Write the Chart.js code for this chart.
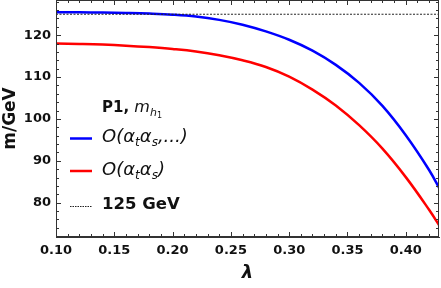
<!DOCTYPE html>
<html>
<head>
<meta charset="utf-8">
<script src="https://cdn.jsdelivr.net/npm/chart.js@4.4.1/dist/chart.umd.min.js"></script>
<style>
  html, body { margin: 0; padding: 0; background: #fff; }
  canvas { display: block; }
</style>
</head>
<body>
<canvas id="massChart" width="441" height="288"></canvas>
<script>
// lambda values and the two m_h1 curves (GeV)
const lambda = [0.10, 0.12, 0.14, 0.16, 0.18, 0.20, 0.22, 0.24, 0.26, 0.28, 0.30, 0.32, 0.34, 0.36, 0.38, 0.40, 0.42, 0.43];
const mFull  = [125.5, 125.47, 125.4, 125.3, 125.15, 124.9, 124.45, 123.65, 122.5, 120.9, 118.9, 116.3, 112.9, 108.6, 103.1, 96.1, 87.8, 82.8];
const mAtAs  = [118.0, 117.9, 117.75, 117.5, 117.15, 116.7, 116.1, 115.2, 114.0, 112.4, 110.1, 107.0, 103.2, 98.5, 92.9, 86.1, 78.3, 74.0];
const refMass = 125;

const xTickValues = [0.10, 0.15, 0.20, 0.25, 0.30, 0.35, 0.40];
const yTickValues = [80, 90, 100, 110, 120];
const xMin = 0.1, xMax = 0.4285;
const yMin = 71.8, yMax = 128.4;

const FONT = 'DejaVu Sans';

var toPoints = function(ys) {
    return lambda.map(function(x, i) { return {x: x, y: ys[i]}; });
};

// frame with inward ticks on all four sides, like the original
const framePlugin = {
    id: 'frame',
    afterDatasetsDraw(chart) {
        const ctx = chart.ctx;
        const a = chart.chartArea;
        const sx = chart.scales.x, sy = chart.scales.y;
        ctx.save();
        ctx.strokeStyle = '#333';
        ctx.lineWidth = 1;
        ctx.strokeRect(a.left + 0.5, a.top + 0.5, a.right - a.left - 1, a.bottom - a.top - 1);
        ctx.beginPath();
        for (var i = 10; i <= 42; i++) {
            var px = Math.round(sx.getPixelForValue(i / 100)) + 0.5;
            var len = (i % 5 === 0) ? 5 : 3;
            ctx.moveTo(px, a.bottom); ctx.lineTo(px, a.bottom - len);
            ctx.moveTo(px, a.top); ctx.lineTo(px, a.top + len);
        }
        for (var v = 72; v <= 128; v += 2) {
            var py = Math.round(sy.getPixelForValue(v)) + 0.5;
            var ylen = (v % 10 === 0) ? 5 : 3;
            ctx.moveTo(a.left, py); ctx.lineTo(a.left + ylen, py);
            ctx.moveTo(a.right, py); ctx.lineTo(a.right - ylen, py);
        }
        ctx.stroke();
        ctx.restore();
    }
};

// draw a run of text pieces, each with its own font and vertical offset
function drawRuns(ctx, x, y, runs) {
    runs.forEach(function(r) {
        ctx.font = r.font;
        ctx.fillText(r.text, x, y + (r.dy || 0));
        x += ctx.measureText(r.text).width;
    });
}

const legendPlugin = {
    id: 'mathLegend',
    afterDraw(chart) {
        const ctx = chart.ctx;
        ctx.save();
        ctx.fillStyle = '#111';
        ctx.textBaseline = 'alphabetic';
        ctx.textAlign = 'left';
        var tx = 102;
        drawRuns(ctx, tx, 112, [
            {text: 'P1, ', font: 'bold 15px ' + FONT},
            {text: 'm', font: 'italic 16px ' + FONT},
            {text: 'h', font: 'italic 11px ' + FONT, dy: 4},
            {text: '1', font: '8px ' + FONT, dy: 6}
        ]);
        // blue sample
        ctx.lineWidth = 2.5;
        ctx.strokeStyle = '#0000ff';
        ctx.beginPath(); ctx.moveTo(70, 138.5); ctx.lineTo(92, 138.5); ctx.stroke();
        drawRuns(ctx, tx, 141.5, [
            {text: 'O(α', font: 'italic 18px ' + FONT},
            {text: 't', font: 'italic 12px ' + FONT, dy: 4},
            {text: 'α', font: 'italic 18px ' + FONT},
            {text: 's', font: 'italic 12px ' + FONT, dy: 4},
            {text: ',...)', font: 'italic 18px ' + FONT}
        ]);
        // red sample
        ctx.strokeStyle = '#ff0000';
        ctx.beginPath(); ctx.moveTo(70, 171); ctx.lineTo(92, 171); ctx.stroke();
        drawRuns(ctx, tx, 174.5, [
            {text: 'O(α', font: 'italic 18px ' + FONT},
            {text: 't', font: 'italic 12px ' + FONT, dy: 4},
            {text: 'α', font: 'italic 18px ' + FONT},
            {text: 's', font: 'italic 12px ' + FONT, dy: 4},
            {text: ')', font: 'italic 18px ' + FONT}
        ]);
        // dashed sample
        ctx.strokeStyle = '#222';
        ctx.lineWidth = 1;
        ctx.setLineDash([1.5, 1]);
        ctx.beginPath(); ctx.moveTo(70, 206.5); ctx.lineTo(92, 206.5); ctx.stroke();
        ctx.setLineDash([]);
        drawRuns(ctx, tx, 208.5, [
            {text: '125 GeV', font: 'bold 16.5px ' + FONT}
        ]);
        ctx.restore();
    }
};

var chartConfig = {
    type: 'line',
    data: {
        datasets: [
            {
                label: '125 GeV',
                data: [{x: xMin, y: refMass}, {x: xMax, y: refMass}],
                borderColor: '#222',
                borderWidth: 1,
                borderDash: [2, 1.5],
                pointRadius: 0
            },
            {
                label: 'O(αtαs,...)',
                data: toPoints(mFull),
                borderColor: '#0000ff',
                borderWidth: 2.5,
                pointRadius: 0,
                tension: 0.4
            },
            {
                label: 'O(αtαs)',
                data: toPoints(mAtAs),
                borderColor: '#ff0000',
                borderWidth: 2.5,
                pointRadius: 0,
                tension: 0.4
            }
        ]
    },
    options: {
        responsive: false,
        devicePixelRatio: 1,
        animation: false,
        layout: { padding: { top: 0, right: 2, left: 0, bottom: 0 } },
        plugins: {
            legend: { display: false },
            tooltip: { enabled: false }
        },
        scales: {
            x: {
                type: 'linear',
                min: xMin,
                max: xMax,
                afterBuildTicks: function(s) { s.ticks = xTickValues.map(function(v) { return {value: v}; }); },
                afterFit: function(s) { s.height = 51; s.paddingLeft = 0; s.paddingRight = 0; },
                ticks: {
                    color: '#111',
                    padding: 6,
                    maxRotation: 0,
                    font: { family: FONT, size: 13, weight: 'bold' },
                    callback: function(v) { return Number(v).toFixed(2); }
                },
                grid: { display: false, drawTicks: false },
                border: { display: true, color: '#333' },
                title: {
                    display: true,
                    text: 'λ',
                    color: '#111',
                    padding: { top: 0, bottom: 4 },
                    font: { family: FONT, size: 18, weight: 'bold', style: 'italic' }
                }
            },
            y: {
                min: yMin,
                max: yMax,
                afterBuildTicks: function(s) { s.ticks = yTickValues.map(function(v) { return {value: v}; }); },
                afterFit: function(s) { s.width = 56; s.paddingTop = 0; s.paddingBottom = 0; },
                ticks: {
                    color: '#111',
                    padding: 5,
                    font: { family: FONT, size: 13, weight: 'bold' }
                },
                grid: { display: false, drawTicks: false },
                border: { display: true, color: '#333' },
                title: {
                    display: true,
                    text: 'm/GeV',
                    color: '#111',
                    padding: { top: 0, bottom: 0 },
                    font: { family: FONT, size: 17, weight: 'bold' }
                }
            }
        }
    },
    plugins: [framePlugin, legendPlugin]
};

let ctxMain = document.getElementById('massChart').getContext('2d');
let massChart = new Chart(ctxMain, chartConfig);
</script>
</body>
</html>
